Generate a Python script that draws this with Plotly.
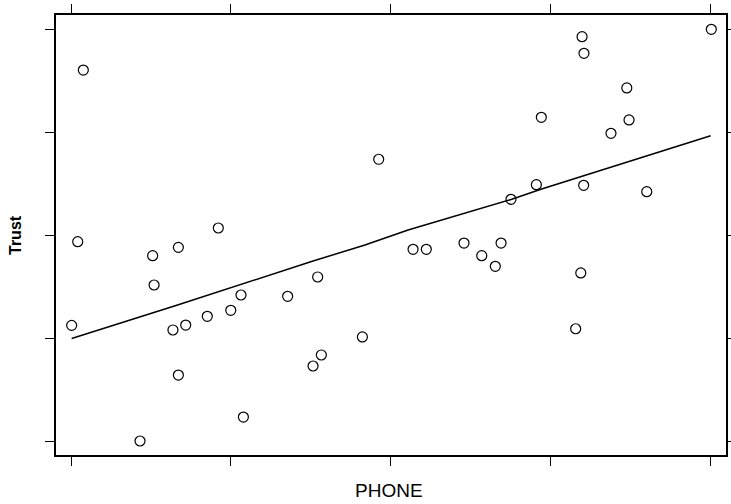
import plotly.graph_objects as go

phone = [0.077, 0.042, 0.922, 0.672, 0.511, 0.520, 0.004, 0.638, 0.718, 0.853,
         1.000, 1.064, 1.356, 1.544, 1.824, 1.567, 1.515, 0.672, 1.079, 0.432,
         4.008, 3.199, 3.211, 3.479, 2.944, 3.493, 3.380, 1.926, 2.913, 3.209,
         3.604, 2.754, 2.460, 2.692, 2.141, 2.224, 2.571, 2.656, 3.191, 3.159]
trust = [3.605, 1.937, 2.070, 1.882, 1.801, 1.516, 1.124, 1.079, 1.127, 1.212,
         1.270, 1.419, 1.406, 1.594, 1.011, 0.836, 0.729, 0.641, 0.233, 0.000,
         4.001, 3.929, 3.768, 3.431, 3.146, 3.120, 2.990, 2.738, 2.491, 2.485,
         2.423, 2.349, 1.924, 1.924, 1.863, 1.863, 1.801, 1.698, 1.633, 1.091]

smooth_x = [0.004, 0.662, 1.515, 1.840, 2.110, 2.759, 2.946, 3.207, 4.004]
smooth_y = [0.996, 1.319, 1.749, 1.905, 2.050, 2.349, 2.449, 2.575, 2.967]

tick_vals = [0, 1, 2, 3, 4]

fig = go.Figure()
fig.add_trace(go.Scatter(x=phone, y=trust, mode="markers",
                         marker=dict(symbol="circle-open", size=10, color="black",
                                     line=dict(width=1.2, color="black")),
                         showlegend=False))
fig.add_trace(go.Scatter(x=smooth_x, y=smooth_y, mode="lines",
                         line=dict(color="black", width=1.5),
                         showlegend=False))

axis_common = dict(showgrid=False, zeroline=False, showline=True, linecolor="black",
                   linewidth=1.5, mirror="ticks", ticks="outside", ticklen=9,
                   tickwidth=1.2, tickcolor="black", showticklabels=False,
                   tickvals=tick_vals, automargin=False)

fig.update_layout(
    width=731, height=504, autosize=False,
    margin=dict(l=56, r=5, t=15, b=49),
    paper_bgcolor="white", plot_bgcolor="white",
    xaxis=dict(range=[-0.094, 4.10], **axis_common),
    yaxis=dict(range=[-0.136, 4.14], **axis_common),
    font=dict(family="Liberation Sans, Arial, sans-serif", color="black"),
    annotations=[
        dict(text="PHONE", xref="paper", yref="paper", x=0.4975, y=-0.0818,
             xanchor="center", yanchor="middle", showarrow=False,
             font=dict(size=19)),
        dict(text="<b>Trust</b>", xref="paper", yref="paper", x=-0.0612, y=0.5,
             xanchor="center", yanchor="middle", showarrow=False, textangle=-90,
             font=dict(size=16)),
    ],
)

fig.write_html(
    "out.html",
    config={"displayModeBar": False, "responsive": False},
    default_width="731px", default_height="504px",
    post_script="document.body.style.margin='0';document.body.style.padding='0';document.body.style.overflow='hidden';",
)
